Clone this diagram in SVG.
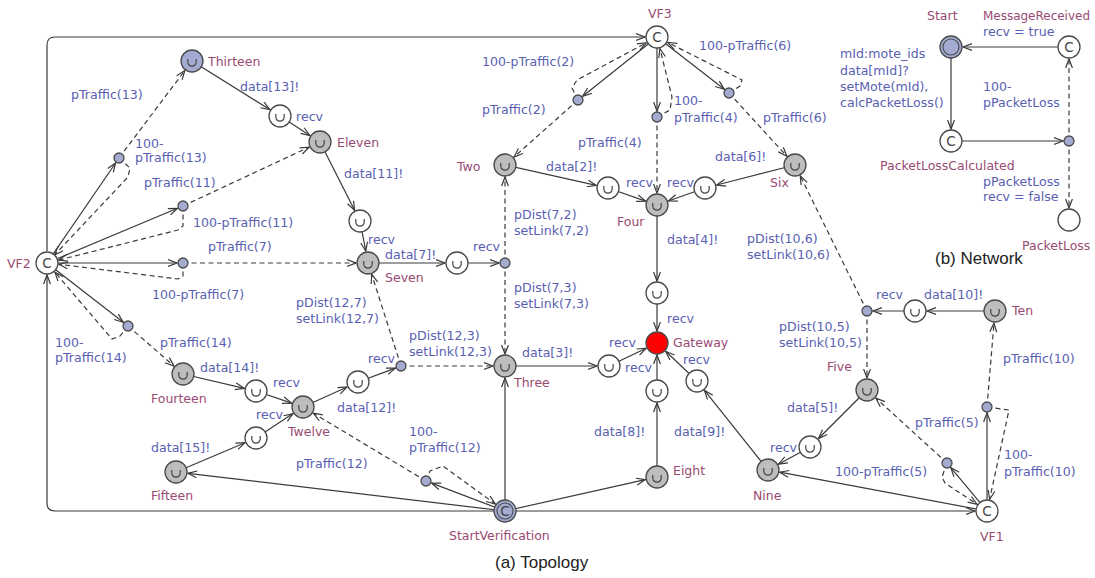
<svg xmlns="http://www.w3.org/2000/svg" width="1095" height="578" viewBox="0 0 1095 578">
<style>
.e{fill:none;stroke:#3a3a3a;stroke-width:1.2;marker-end:url(#ar)}
.d{stroke-dasharray:5 3.5}
.loc{fill:#fff;stroke:#4a4a4a;stroke-width:1.3}
.g{fill:#bdbdbd}
.b{fill:#a4abd1}
.r{fill:#f00}
.lb{font-family:"DejaVu Sans",sans-serif;font-size:12.6px;fill:#5a5fb2}
.nm{font-family:"DejaVu Sans",sans-serif;font-size:12.5px;fill:#994a72}
.c{font-family:"DejaVu Sans",sans-serif;font-size:13.5px;fill:#444;text-anchor:middle}
.cap{font-family:"Liberation Sans",Arial,sans-serif;font-size:17px;fill:#222}
</style>
<defs>
<marker id="ar" markerWidth="12" markerHeight="10" refX="9.5" refY="4" orient="auto" markerUnits="userSpaceOnUse" viewBox="0 0 12 10">
<path d="M0.5,0.6 L9.5,4 L0.5,7.4" fill="none" stroke="#3a3a3a" stroke-width="1.2" stroke-dasharray="none"/>
</marker>
<path id="u" d="M-4.2,-3.5 L-4.2,-0.5 A4.2,4.2 0 0 0 4.2,-0.5 L4.2,-3.5" fill="none" stroke="#444" stroke-width="1.2" transform="translate(0,1.5)"/>
</defs>
<rect width="1095" height="578" fill="#fff"/>

<g id="connectors">
<path class="e" d="M494,511 L55,511 Q47,511 47,503 L47,275"/>
<path class="e" d="M47,251 L47,45 Q47,37 55,37 L645,37"/>
<path class="e" d="M516,511 L975,511"/>
<path class="e" d="M47,263 L115.6,163"/>
<path class="e d" d="M119,158 L184.8,70.6"/>
<path class="e d" d="M119,158 L130,168 L128,177 L54.5,255"/>
<path class="e" d="M47,263 L177.5,208.3"/>
<path class="e d" d="M183,206 L309.1,147.1"/>
<path class="e d" d="M183,206 L183,226 L178,230 L58.6,260.1"/>
<path class="e" d="M47,263 L177,263"/>
<path class="e d" d="M183,263 L356,263"/>
<path class="e d" d="M183,263 L183,276 L178,279 L58.9,264.3"/>
<path class="e" d="M47,263 L123.3,322.3"/>
<path class="e d" d="M128,326 L174,366.1"/>
<path class="e d" d="M128,326 L120,336 L112,339 L54.8,272.1"/>
<path class="e" d="M192,61 L269.8,109.6"/>
<path class="e" d="M280,116 L309.9,135.5"/>
<path class="e" d="M320,142 L354.6,210.3"/>
<path class="e" d="M360,221 L365.8,251.2"/>
<path class="e" d="M368,263 L445,263"/>
<path class="e" d="M457,263 L499,263"/>
<path class="e d" d="M505,263 L505,177"/>
<path class="e d" d="M505,263 L505,354"/>
<path class="e" d="M183,374 L244.3,388.3"/>
<path class="e" d="M256,391 L291.6,403.1"/>
<path class="e" d="M176,472 L245,442.7"/>
<path class="e" d="M256,438 L293,413.6"/>
<path class="e" d="M303,407 L347.1,387"/>
<path class="e" d="M358,382 L395.4,368.1"/>
<path class="e d" d="M401,366 L371.7,274.4"/>
<path class="e d" d="M401,366 L493,366"/>
<path class="e" d="M505,366 L597,366"/>
<path class="e" d="M609,366 L646.2,348.2"/>
<path class="e" d="M657,293 L657,331"/>
<path class="e" d="M657,391 L657,355"/>
<path class="e" d="M697,381 L665.7,351.3"/>
<path class="e" d="M657,205 L657,281"/>
<path class="e" d="M657,477 L657,403"/>
<path class="e" d="M768,470 L704.5,390.4"/>
<path class="e" d="M505,511 L645.3,479.6"/>
<path class="e" d="M505,511 L505,378"/>
<path class="e" d="M505,511 L187.9,473.3"/>
<path class="e" d="M505,511 L431.6,483.1"/>
<path class="e d" d="M426,481 L313.3,413.2"/>
<path class="e d" d="M426,481 L430,471 L443,466 L495.3,504"/>
<path class="e" d="M505,165 L596.3,185.4"/>
<path class="e" d="M608,188 L645.7,201.1"/>
<path class="e" d="M795,165 L716.6,185"/>
<path class="e" d="M705,188 L668.3,201"/>
<path class="e" d="M657,37 L582.7,96.3"/>
<path class="e d" d="M578,100 L514,157"/>
<path class="e d" d="M578,100 L572,88 L577,80 L646.4,42.7"/>
<path class="e" d="M657,37 L657,111"/>
<path class="e d" d="M657,117 L657,193"/>
<path class="e d" d="M657,117 L670,110 L672,97 L659.9,48.6"/>
<path class="e" d="M657,37 L724.3,89.3"/>
<path class="e d" d="M729,93 L786.9,156.2"/>
<path class="e d" d="M729,93 L740,86 L742,80 L667.7,42.4"/>
<path class="e d" d="M867,311 L800.2,175.8"/>
<path class="e d" d="M867,311 L867,378"/>
<path class="e" d="M995,311 L927,311"/>
<path class="e" d="M915,311 L873,311"/>
<path class="e" d="M867,390 L818.5,438.5"/>
<path class="e" d="M810,447 L778.5,464.2"/>
<path class="e" d="M987,511 L779.8,472.2"/>
<path class="e" d="M987,511 L950.8,467.6"/>
<path class="e d" d="M947,463 L875.9,398.1"/>
<path class="e d" d="M947,463 L942,477 L945,483 L977,504.3"/>
<path class="e" d="M987,511 L987,413"/>
<path class="e d" d="M987,407 L994,323"/>
<path class="e d" d="M987,407 L1009,410 L989.6,499.3"/>
<path class="e" d="M1069,47 L963,47"/>
<path class="e" d="M951,47 L951,129"/>
<path class="e" d="M951,141 L1063,141"/>
<path class="e d" d="M1069,141 L1069,59"/>
<path class="e d" d="M1069,141 L1069,208"/>
</g>

<g id="edge-labels">
<text class="lb" x="71" y="99">pTraffic(13)</text>
<text class="lb" x="135" y="148">100-</text>
<text class="lb" x="135" y="162">pTraffic(13)</text>
<text class="lb" x="240" y="91">data[13]!</text>
<text class="lb" x="296" y="121">recv</text>
<text class="lb" x="144" y="187">pTraffic(11)</text>
<text class="lb" x="344" y="178">data[11]!</text>
<text class="lb" x="193" y="227">100-pTraffic(11)</text>
<text class="lb" x="208" y="251">pTraffic(7)</text>
<text class="lb" x="152" y="299">100-pTraffic(7)</text>
<text class="lb" x="368" y="244">recv</text>
<text class="lb" x="385" y="259">data[7]!</text>
<text class="lb" x="473" y="251">recv</text>
<text class="lb" x="514" y="219">pDist(7,2)</text>
<text class="lb" x="514" y="235">setLink(7,2)</text>
<text class="lb" x="514" y="292">pDist(7,3)</text>
<text class="lb" x="514" y="308">setLink(7,3)</text>
<text class="lb" x="296" y="307">pDist(12,7)</text>
<text class="lb" x="296" y="323">setLink(12,7)</text>
<text class="lb" x="409" y="340">pDist(12,3)</text>
<text class="lb" x="409" y="356">setLink(12,3)</text>
<text class="lb" x="368" y="363">recv</text>
<text class="lb" x="55" y="347">100-</text>
<text class="lb" x="55" y="362">pTraffic(14)</text>
<text class="lb" x="160" y="347">pTraffic(14)</text>
<text class="lb" x="200" y="372">data[14]!</text>
<text class="lb" x="273" y="387">recv</text>
<text class="lb" x="256" y="419">recv</text>
<text class="lb" x="151" y="452">data[15]!</text>
<text class="lb" x="337" y="412">data[12]!</text>
<text class="lb" x="409" y="436">100-</text>
<text class="lb" x="409" y="452">pTraffic(12)</text>
<text class="lb" x="296" y="468">pTraffic(12)</text>
<text class="lb" x="522" y="357">data[3]!</text>
<text class="lb" x="609" y="347">recv</text>
<text class="lb" x="625" y="372">recv</text>
<text class="lb" x="667" y="323">recv</text>
<text class="lb" x="683" y="364">recv</text>
<text class="lb" x="667" y="244">data[4]!</text>
<text class="lb" x="594" y="436">data[8]!</text>
<text class="lb" x="674" y="436">data[9]!</text>
<text class="lb" x="482" y="66">100-pTraffic(2)</text>
<text class="lb" x="482" y="114">pTraffic(2)</text>
<text class="lb" x="546" y="171">data[2]!</text>
<text class="lb" x="626" y="187">recv</text>
<text class="lb" x="667" y="187">recv</text>
<text class="lb" x="578" y="147">pTraffic(4)</text>
<text class="lb" x="674" y="105">100-</text>
<text class="lb" x="674" y="122">pTraffic(4)</text>
<text class="lb" x="715" y="161">data[6]!</text>
<text class="lb" x="699" y="50">100-pTraffic(6)</text>
<text class="lb" x="763" y="122">pTraffic(6)</text>
<text class="lb" x="747" y="243">pDist(10,6)</text>
<text class="lb" x="747" y="259">setLink(10,6)</text>
<text class="lb" x="924" y="299">data[10]!</text>
<text class="lb" x="876" y="299">recv</text>
<text class="lb" x="779" y="331">pDist(10,5)</text>
<text class="lb" x="779" y="347">setLink(10,5)</text>
<text class="lb" x="787" y="412">data[5]!</text>
<text class="lb" x="770" y="452">recv</text>
<text class="lb" x="915" y="427">pTraffic(5)</text>
<text class="lb" x="835" y="476">100-pTraffic(5)</text>
<text class="lb" x="1003" y="363">pTraffic(10)</text>
<text class="lb" x="1004" y="459">100-</text>
<text class="lb" x="1004" y="476">pTraffic(10)</text>
<text class="lb" x="840" y="58">mId:mote_ids</text>
<text class="lb" x="840" y="75">data[mId]?</text>
<text class="lb" x="840" y="91">setMote(mId),</text>
<text class="lb" x="840" y="107">calcPacketLoss()</text>
<text class="lb" x="983" y="36">recv = true</text>
<text class="lb" x="983" y="91">100-</text>
<text class="lb" x="983" y="107">pPacketLoss</text>
<text class="lb" x="983" y="186">pPacketLoss</text>
<text class="lb" x="983" y="201">recv = false</text>
</g>

<g id="vf2"><circle class="loc" cx="47" cy="263" r="11"/><text class="c" x="47" y="268">C</text><text class="nm" x="7" y="268">VF2</text></g>
<g id="vf3"><circle class="loc" cx="657" cy="37" r="11"/><text class="c" x="657" y="42">C</text><text class="nm" x="648" y="18">VF3</text></g>
<g id="vf1"><circle class="loc" cx="987" cy="511" r="11"/><text class="c" x="987" y="516">C</text><text class="nm" x="980" y="541">VF1</text></g>
<g id="startverification"><circle class="loc b" cx="505" cy="511" r="11"/><circle cx="505" cy="511" r="8" fill="none" stroke="#4a4a4a" stroke-width="1.1"/><text class="c" x="505" y="516">C</text><text class="nm" x="449" y="540">StartVerification</text></g>

<g id="thirteen"><circle class="loc b" cx="192" cy="61" r="11"/><use href="#u" x="192" y="61"/><text class="nm" x="208" y="66">Thirteen</text></g>
<g id="recv13"><circle class="loc" cx="280" cy="116" r="11"/><use href="#u" x="280" y="116"/></g>
<g id="eleven"><circle class="loc g" cx="320" cy="142" r="11"/><use href="#u" x="320" y="142"/><text class="nm" x="337" y="147">Eleven</text></g>
<g id="recv11"><circle class="loc" cx="360" cy="221" r="11"/><use href="#u" x="360" y="221"/></g>
<g id="seven"><circle class="loc g" cx="368" cy="263" r="11"/><use href="#u" x="368" y="263"/><text class="nm" x="385" y="282">Seven</text></g>
<g id="recv7"><circle class="loc" cx="457" cy="263" r="11"/><use href="#u" x="457" y="263"/></g>
<g id="two"><circle class="loc g" cx="505" cy="165" r="11"/><use href="#u" x="505" y="165"/><text class="nm" x="457" y="171">Two</text></g>
<g id="three"><circle class="loc g" cx="505" cy="366" r="11"/><use href="#u" x="505" y="366"/><text class="nm" x="514" y="387">Three</text></g>
<g id="four"><circle class="loc g" cx="657" cy="205" r="11"/><use href="#u" x="657" y="205"/><text class="nm" x="617" y="226">Four</text></g>
<g id="recv4l"><circle class="loc" cx="608" cy="188" r="11"/><use href="#u" x="608" y="188"/></g>
<g id="recv4r"><circle class="loc" cx="705" cy="188" r="11"/><use href="#u" x="705" y="188"/></g>
<g id="six"><circle class="loc g" cx="795" cy="165" r="11"/><use href="#u" x="795" y="165"/><text class="nm" x="770" y="187">Six</text></g>
<g id="recv4"><circle class="loc" cx="657" cy="293" r="11"/><use href="#u" x="657" y="293"/></g>
<g id="gateway"><circle class="loc r" cx="657" cy="343" r="11"/><text class="nm" x="673" y="347">Gateway</text></g>
<g id="recv3"><circle class="loc" cx="609" cy="366" r="11"/><use href="#u" x="609" y="366"/></g>
<g id="recv9"><circle class="loc" cx="697" cy="381" r="11"/><use href="#u" x="697" y="381"/></g>
<g id="recv8"><circle class="loc" cx="657" cy="391" r="11"/><use href="#u" x="657" y="391"/></g>
<g id="eight"><circle class="loc g" cx="657" cy="477" r="11"/><use href="#u" x="657" y="477"/><text class="nm" x="673" y="475">Eight</text></g>
<g id="nine"><circle class="loc g" cx="768" cy="470" r="11"/><use href="#u" x="768" y="470"/><text class="nm" x="753" y="500">Nine</text></g>
<g id="recv5"><circle class="loc" cx="810" cy="447" r="11"/><use href="#u" x="810" y="447"/></g>
<g id="five"><circle class="loc g" cx="867" cy="390" r="11"/><use href="#u" x="867" y="390"/><text class="nm" x="827" y="371">Five</text></g>
<g id="recv10"><circle class="loc" cx="915" cy="311" r="11"/><use href="#u" x="915" y="311"/></g>
<g id="ten"><circle class="loc g" cx="995" cy="311" r="11"/><use href="#u" x="995" y="311"/><text class="nm" x="1012" y="315">Ten</text></g>
<g id="fourteen"><circle class="loc g" cx="183" cy="374" r="11"/><use href="#u" x="183" y="374"/><text class="nm" x="151" y="403">Fourteen</text></g>
<g id="recv14"><circle class="loc" cx="256" cy="391" r="11"/><use href="#u" x="256" y="391"/></g>
<g id="twelve"><circle class="loc g" cx="303" cy="407" r="11"/><use href="#u" x="303" y="407"/><text class="nm" x="288" y="436">Twelve</text></g>
<g id="recv15"><circle class="loc" cx="256" cy="438" r="11"/><use href="#u" x="256" y="438"/></g>
<g id="fifteen"><circle class="loc g" cx="176" cy="472" r="11"/><use href="#u" x="176" y="472"/><text class="nm" x="151" y="500">Fifteen</text></g>
<g id="recv12"><circle class="loc" cx="358" cy="382" r="11"/><use href="#u" x="358" y="382"/></g>

<g id="b13"><circle class="loc b" cx="119" cy="158" r="5"/></g>
<g id="b11"><circle class="loc b" cx="183" cy="206" r="5"/></g>
<g id="b7"><circle class="loc b" cx="183" cy="263" r="5"/></g>
<g id="b14"><circle class="loc b" cx="128" cy="326" r="5"/></g>
<g id="b2"><circle class="loc b" cx="578" cy="100" r="5"/></g>
<g id="b4"><circle class="loc b" cx="657" cy="117" r="5"/></g>
<g id="b6"><circle class="loc b" cx="729" cy="93" r="5"/></g>
<g id="b7link"><circle class="loc b" cx="505" cy="263" r="5"/></g>
<g id="b12link"><circle class="loc b" cx="401" cy="366" r="5"/></g>
<g id="b12"><circle class="loc b" cx="426" cy="481" r="5"/></g>
<g id="b10link"><circle class="loc b" cx="867" cy="311" r="5"/></g>
<g id="b5"><circle class="loc b" cx="947" cy="463" r="5"/></g>
<g id="b10"><circle class="loc b" cx="987" cy="407" r="5"/></g>

<g id="net-start"><circle class="loc b" cx="951" cy="47" r="11"/><circle cx="951" cy="47" r="8" fill="none" stroke="#4a4a4a" stroke-width="1.1"/><text class="nm" x="927" y="20">Start</text></g>
<g id="net-messagereceived"><circle class="loc" cx="1069" cy="47" r="11"/><text class="c" x="1069" y="52">C</text><text class="nm" x="983" y="20" textLength="107" lengthAdjust="spacingAndGlyphs">MessageReceived</text></g>
<g id="net-packetlosscalculated"><circle class="loc" cx="951" cy="141" r="11"/><text class="c" x="951" y="146">C</text><text class="nm" x="880" y="170">PacketLossCalculated</text></g>
<g id="net-branch"><circle class="loc b" cx="1069" cy="141" r="5"/></g>
<g id="net-packetloss"><circle class="loc" cx="1069" cy="220" r="11"/><text class="nm" x="1022" y="250">PacketLoss</text></g>

<text class="cap" x="935" y="264">(b) Network</text>
<text class="cap" x="495" y="568">(a) Topology</text>
</svg>
